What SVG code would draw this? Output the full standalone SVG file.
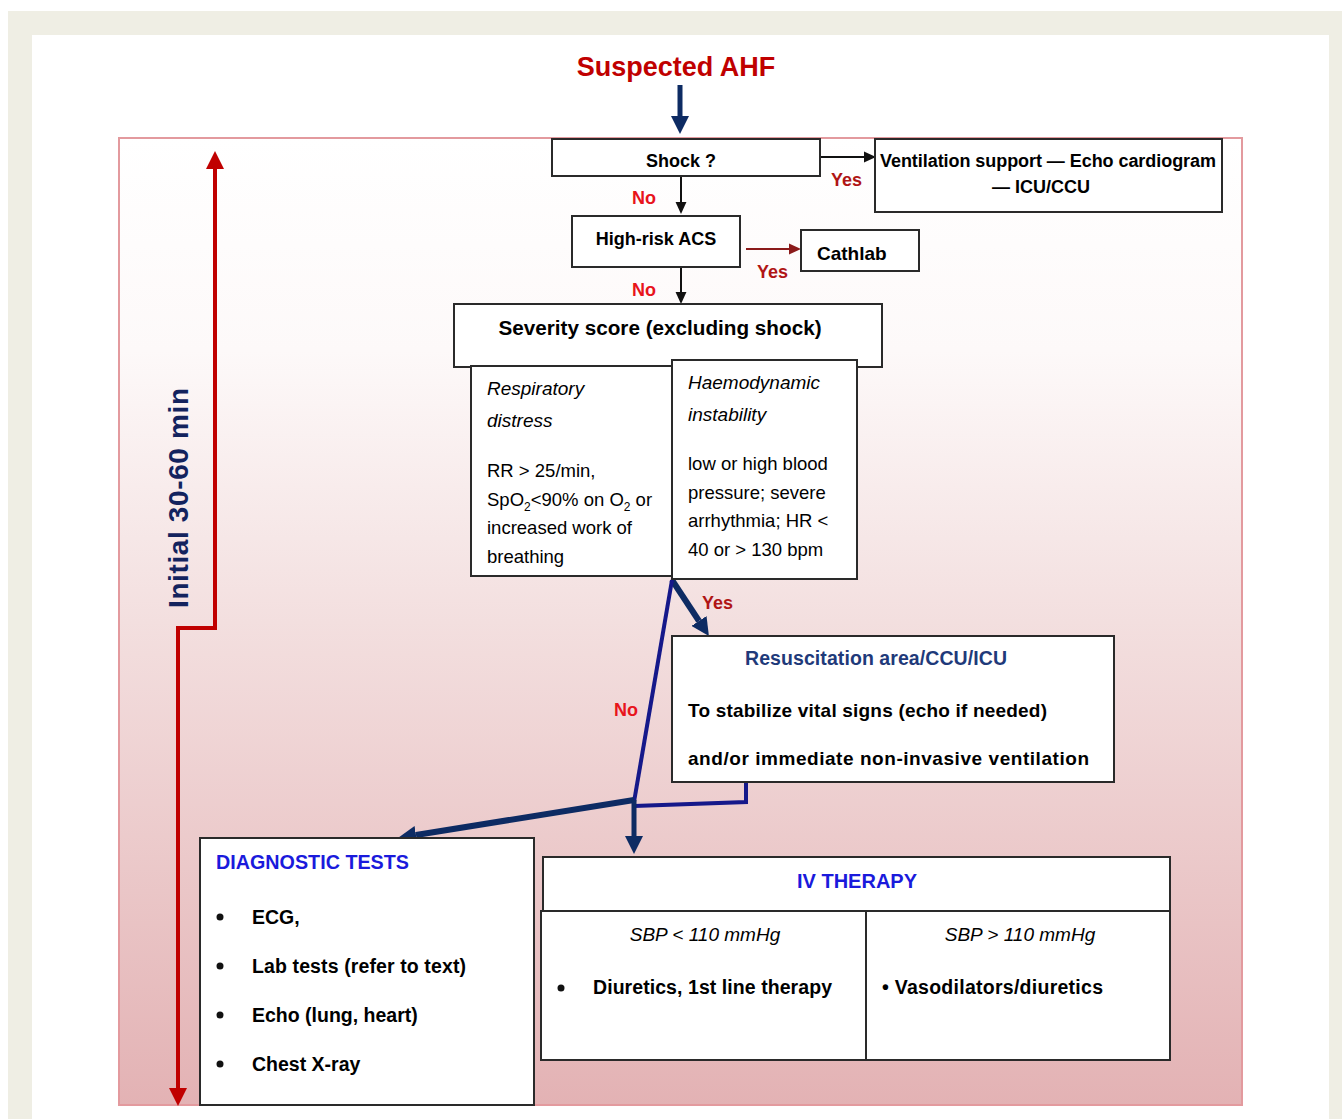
<svg xmlns="http://www.w3.org/2000/svg" width="1342" height="1119" viewBox="0 0 1342 1119">
<defs>
<linearGradient id="panelGrad" x1="0" y1="0" x2="0" y2="1">
<stop offset="0" stop-color="#ffffff"/>
<stop offset="0.22" stop-color="#fdf9f9"/>
<stop offset="0.5" stop-color="#f3dfdf"/>
<stop offset="1" stop-color="#e3b2b4"/>
</linearGradient>
<marker id="headBlack" markerUnits="userSpaceOnUse" markerWidth="12" markerHeight="12" refX="0" refY="5" orient="auto" viewBox="0 0 11 10"><path d="M0,0 L11,5 L0,10 Z" fill="#111"/></marker>
<marker id="headDarkRed" markerUnits="userSpaceOnUse" markerWidth="12" markerHeight="12" refX="0" refY="5" orient="auto" viewBox="0 0 11 10"><path d="M0,0 L11,5 L0,10 Z" fill="#8b1a1a"/></marker>
<marker id="headNavy" markerUnits="userSpaceOnUse" markerWidth="18" markerHeight="18" refX="0" refY="8" orient="auto" viewBox="0 0 16 16"><path d="M0,0 L16,8 L0,16 Z" fill="#0d2b63"/></marker>
<marker id="headRed" markerUnits="userSpaceOnUse" markerWidth="18" markerHeight="18" refX="0" refY="8" orient="auto-start-reverse" viewBox="0 0 16 16"><path d="M0,0 L16,8 L0,16 Z" fill="#c00000"/></marker>
</defs>
<style>
text{font-family:"Liberation Sans",Arial,sans-serif;}
.box{fill:#ffffff;stroke:#2a2a2a;stroke-width:2;}
.b{font-weight:bold;}
.i{font-style:italic;}
.t18{font-size:18px;}
.t19{font-size:19px;}
.red{fill:#e8141c;font-weight:bold;font-size:18px;}
.dred{fill:#b01515;font-weight:bold;font-size:18px;}
.navyArr{stroke:#0d2b63;fill:none;}
.blueLine{stroke:#15188a;fill:none;stroke-width:4;}
.bullet{fill:#111;}
</style>

<rect x="8" y="11" width="1334" height="1108" fill="#efeee4"/>
<rect x="32" y="35" width="1297" height="1084" fill="#ffffff"/>
<rect id="panel" x="119" y="138" width="1123" height="967" fill="url(#panelGrad)" stroke="#e39a9e" stroke-width="2"/>

<g id="title">
<text x="676" y="76" text-anchor="middle" class="b" font-size="27" fill="#c00000">Suspected AHF</text>
</g>

<g id="timeline">
<path d="M178,1088 L178,628 L215,628 L215,169" stroke="#c00000" stroke-width="4" fill="none" marker-start="url(#headRed)" marker-end="url(#headRed)"/>
<text transform="translate(188,498) rotate(-90)" text-anchor="middle" class="b" font-size="28" fill="#13235e" textLength="220">Initial 30-60 min</text>
</g>

<g id="connectors">
<line x1="680" y1="85" x2="680" y2="116" class="navyArr" stroke-width="5" marker-end="url(#headNavy)"/>
<line x1="820" y1="157" x2="864" y2="157" stroke="#111" stroke-width="2" marker-end="url(#headBlack)"/>
<line x1="681" y1="176" x2="681" y2="202" stroke="#111" stroke-width="2" marker-end="url(#headBlack)"/>
<line x1="746" y1="249" x2="789" y2="249" stroke="#8b1a1a" stroke-width="2" marker-end="url(#headDarkRed)"/>
<line x1="681" y1="267" x2="681" y2="292" stroke="#111" stroke-width="2" marker-end="url(#headBlack)"/>
<line x1="672" y1="580" x2="699" y2="621" class="navyArr" stroke-width="6" marker-end="url(#headNavy)"/>
<line x1="672" y1="580" x2="634" y2="802" class="blueLine"/>
<polyline points="746,782 746,802 634,806" class="blueLine"/>
<line x1="634" y1="800" x2="416" y2="835" class="navyArr" stroke-width="6" marker-end="url(#headNavy)"/>
<line x1="634" y1="800" x2="634" y2="836" class="navyArr" stroke-width="5" marker-end="url(#headNavy)"/>
<text x="831" y="186" class="dred">Yes</text>
<text x="632" y="204" class="red">No</text>
<text x="757" y="278" class="dred" fill="#9c1a1a">Yes</text>
<text x="632" y="296" class="red">No</text>
<text x="702" y="609" class="dred" fill="#c00000">Yes</text>
<text x="614" y="716" class="red">No</text>
</g>

<g id="shock">
<rect x="552" y="139" width="268" height="37" class="box"/>
<text x="681" y="167" text-anchor="middle" class="b t18">Shock ?</text>
</g>

<g id="ventilation">
<rect x="875" y="139" width="347" height="73" class="box"/>
<text x="880" y="167" class="b t18" textLength="336">Ventilation support — Echo cardiogram</text>
<text x="1041" y="193" text-anchor="middle" class="b t18">— ICU/CCU</text>
</g>

<g id="acs">
<rect x="572" y="216" width="168" height="51" class="box"/>
<text x="656" y="245" text-anchor="middle" class="b t18">High-risk ACS</text>
</g>

<g id="cathlab">
<rect x="801" y="230" width="118" height="41" class="box"/>
<text x="817" y="260" class="b" font-size="19">Cathlab</text>
</g>

<g id="severity">
<rect x="454" y="304" width="428" height="63" class="box"/>
<text x="660" y="335" text-anchor="middle" class="b" font-size="20.7">Severity score (excluding shock)</text>
</g>

<g id="respiratory">
<rect x="471" y="366" width="203" height="210" class="box"/>
<text x="487" y="395" class="i t19">Respiratory</text>
<text x="487" y="427" class="i t19">distress</text>
<text x="487" y="477" font-size="18.5">RR &gt; 25/min,</text>
<text x="487" y="506" font-size="18.5">SpO<tspan font-size="12" dy="5">2</tspan><tspan dy="-5">&lt;90% on O</tspan><tspan font-size="12" dy="5">2</tspan><tspan dy="-5"> or</tspan></text>
<text x="487" y="534" font-size="18.5">increased work of</text>
<text x="487" y="563" font-size="18.5">breathing</text>
</g>

<g id="haemodynamic">
<rect x="672" y="360" width="185" height="219" class="box"/>
<text x="688" y="389" class="i t19">Haemodynamic</text>
<text x="688" y="421" class="i t19">instability</text>
<text x="688" y="470" font-size="18.5">low or high blood</text>
<text x="688" y="499" font-size="18.5">pressure; severe</text>
<text x="688" y="527" font-size="18.5">arrhythmia; HR &lt;</text>
<text x="688" y="556" font-size="18.5">40 or &gt; 130 bpm</text>
</g>

<g id="resuscitation">
<rect x="672" y="636" width="442" height="146" class="box"/>
<text x="745" y="665" class="b" font-size="19.5" fill="#1f3a7a" textLength="262">Resuscitation area/CCU/ICU</text>
<text x="688" y="717" class="b t19" textLength="359">To stabilize vital signs (echo if needed)</text>
<text x="688" y="765" class="b t19" textLength="401">and/or immediate non-invasive ventilation</text>
</g>

<g id="diagnostic">
<rect x="200" y="838" width="334" height="267" class="box"/>
<text x="216" y="869" class="b" font-size="19.5" fill="#1a1adc" textLength="193" lengthAdjust="spacingAndGlyphs">DIAGNOSTIC TESTS</text>
<circle cx="220" cy="917" r="3.5" class="bullet"/>
<circle cx="220" cy="966" r="3.5" class="bullet"/>
<circle cx="220" cy="1015" r="3.5" class="bullet"/>
<circle cx="220" cy="1064" r="3.5" class="bullet"/>
<text x="252" y="924" class="b" font-size="19.5">ECG,</text>
<text x="252" y="973" class="b" font-size="19.5" textLength="214">Lab tests (refer to text)</text>
<text x="252" y="1022" class="b" font-size="19.5">Echo (lung, heart)</text>
<text x="252" y="1071" class="b" font-size="19.5">Chest X-ray</text>
</g>

<g id="ivtherapy">
<rect x="543" y="857" width="627" height="54" class="box"/>
<text x="857" y="888" text-anchor="middle" class="b" font-size="20" fill="#1a1adc">IV THERAPY</text>
<rect x="541" y="911" width="629" height="149" class="box"/>
<line x1="866" y1="911" x2="866" y2="1060" stroke="#2a2a2a" stroke-width="2"/>
<text x="705" y="941" text-anchor="middle" class="i t19">SBP &lt; 110 mmHg</text>
<text x="1020" y="941" text-anchor="middle" class="i t19">SBP &gt; 110 mmHg</text>
<circle cx="561" cy="988" r="3.5" class="bullet"/>
<text x="593" y="994" class="b" font-size="19.5" textLength="239">Diuretics, 1st line therapy</text>
<text x="882" y="994" class="b" font-size="19.5" textLength="221">• Vasodilators/diuretics</text>
</g>
</svg>
